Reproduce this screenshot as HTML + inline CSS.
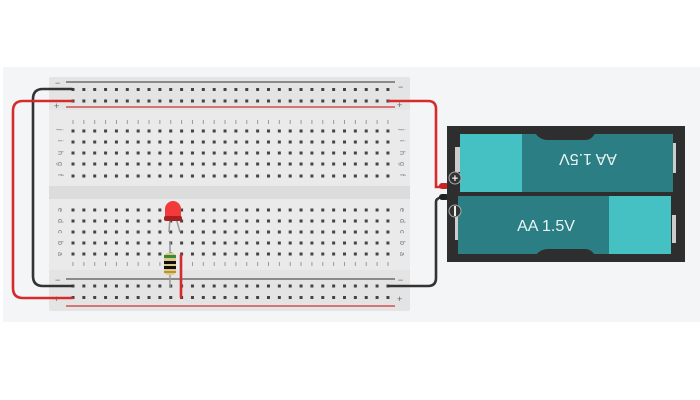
<!DOCTYPE html>
<html><head><style>body{margin:0;background:#fff}svg{display:block}</style></head><body>
<svg width="700" height="400" viewBox="0 0 700 400" xmlns="http://www.w3.org/2000/svg" font-family="Liberation Sans, sans-serif">
<rect x="3" y="67" width="697" height="255" fill="#f4f5f7"/>
<rect x="49" y="77" width="361" height="234" rx="2" fill="#e4e4e4"/>
<rect x="49" y="110" width="361" height="160" fill="#eaeaea"/>
<rect x="49" y="186" width="361" height="13" fill="#dcdcdc"/>
<line x1="66" y1="82" x2="395" y2="82" stroke="#555" stroke-width="1.3"/>
<line x1="66" y1="107" x2="395" y2="107" stroke="#c33" stroke-width="1.3"/>
<line x1="66" y1="279" x2="395" y2="279" stroke="#555" stroke-width="1.3"/>
<line x1="66" y1="306" x2="395" y2="306" stroke="#c33" stroke-width="1.3"/>
<g font-size="9" fill="#666">
<text x="55" y="86">−</text><text x="54" y="109">+</text>
<text x="55" y="283">−</text><text x="54" y="302">+</text>
<text x="398" y="90">−</text><text x="397" y="108">+</text>
<text x="398" y="283">−</text><text x="397" y="302">+</text>
</g>
<g stroke="#444" stroke-width="3" stroke-dasharray="3 7.86">
<line x1="71.5" y1="89.5" x2="392" y2="89.5"/>
<line x1="71.5" y1="101" x2="392" y2="101"/>
<line x1="71.5" y1="131" x2="392" y2="131"/>
<line x1="71.5" y1="142" x2="392" y2="142"/>
<line x1="71.5" y1="153" x2="392" y2="153"/>
<line x1="71.5" y1="164" x2="392" y2="164"/>
<line x1="71.5" y1="176" x2="392" y2="176"/>
<line x1="71.5" y1="210" x2="392" y2="210"/>
<line x1="71.5" y1="221" x2="392" y2="221"/>
<line x1="71.5" y1="232" x2="392" y2="232"/>
<line x1="71.5" y1="243" x2="392" y2="243"/>
<line x1="71.5" y1="254" x2="392" y2="254"/>
<line x1="71.5" y1="286" x2="392" y2="286"/>
<line x1="71.5" y1="297.5" x2="392" y2="297.5"/>
</g>
<g stroke="#999" stroke-width="4" stroke-dasharray="1 9.86">
<line x1="72.5" y1="122" x2="392" y2="122"/>
<line x1="72.5" y1="264" x2="392" y2="264"/>
</g>
<g font-size="7" fill="#777">
<text transform="translate(58,129) rotate(90)">j</text>
<text transform="translate(58,140) rotate(90)">i</text>
<text transform="translate(58,151) rotate(90)">h</text>
<text transform="translate(58,162) rotate(90)">g</text>
<text transform="translate(58,174) rotate(90)">f</text>
<text transform="translate(58,208) rotate(90)">e</text>
<text transform="translate(58,219) rotate(90)">d</text>
<text transform="translate(58,230) rotate(90)">c</text>
<text transform="translate(58,241) rotate(90)">b</text>
<text transform="translate(58,252) rotate(90)">a</text>
<text transform="translate(400,129) rotate(90)">j</text>
<text transform="translate(400,140) rotate(90)">i</text>
<text transform="translate(400,151) rotate(90)">h</text>
<text transform="translate(400,162) rotate(90)">g</text>
<text transform="translate(400,174) rotate(90)">f</text>
<text transform="translate(400,208) rotate(90)">e</text>
<text transform="translate(400,219) rotate(90)">d</text>
<text transform="translate(400,230) rotate(90)">c</text>
<text transform="translate(400,241) rotate(90)">b</text>
<text transform="translate(400,252) rotate(90)">a</text>
</g>
<g fill="none" stroke-width="2.6" stroke-linecap="round">
<path d="M72 89 H43 Q33 89 33 99 V276 Q33 286 43 286 H72" stroke="#333"/>
<path d="M72 101 H23 Q13 101 13 111 V288 Q13 298 23 298 H72" stroke="#d62b2b"/>
<path d="M389 101 H428 Q436 101 436 109 V187 H446" stroke="#d62b2b"/>
<path d="M389 286 H428 Q436 286 436 278 V202 Q436 197 446 197" stroke="#333"/>
<path d="M181 255 V297" stroke="#d62b2b"/>
</g>
<rect x="439" y="183" width="10" height="6" rx="3" fill="#c22"/>
<rect x="439" y="194" width="10" height="6" rx="3" fill="#222"/>
<line x1="170" y1="218" x2="169" y2="232" stroke="#999" stroke-width="1.5"/>
<line x1="176" y1="218" x2="180" y2="232" stroke="#999" stroke-width="1.5"/>
<path d="M165 218 V209 A8 8 0 0 1 181 209 V218 Z" fill="#f23a3a"/>
<rect x="164" y="216" width="18" height="5" rx="2" fill="#a82020"/>
<line x1="170" y1="242" x2="170" y2="287" stroke="#999" stroke-width="1.5"/>
<rect x="164" y="253" width="12" height="22" rx="4" fill="#e0c88a"/>
<rect x="164" y="255" width="12" height="3" fill="#3a8a3a"/>
<rect x="164" y="261" width="12" height="3" fill="#111"/>
<rect x="164" y="266" width="12" height="3" fill="#111"/>
<rect x="164" y="271" width="12" height="2" fill="#b8962e"/>
<rect x="447" y="126" width="238" height="136" fill="#2e2e2e"/>
<rect x="455" y="147" width="5" height="25" fill="#ccc"/>
<rect x="672" y="143" width="4" height="30" fill="#ccc"/>
<rect x="455" y="210" width="5" height="30" fill="#ccc"/>
<rect x="672" y="215" width="4" height="28" fill="#ccc"/>
<rect x="460" y="134" width="213" height="58" fill="#2b7f84"/>
<rect x="460" y="134" width="62" height="58" fill="#45c1c4"/>
<rect x="458" y="196" width="213" height="58" fill="#2b7f84"/>
<rect x="609" y="196" width="62" height="58" fill="#45c1c4"/>
<path d="M535 133 Q540 140 548 140 H585 Q592 140 595 133 Z" fill="#2e2e2e"/>
<path d="M535 256 Q540 249 548 249 H585 Q592 249 595 256 Z" fill="#2e2e2e"/>
<text x="588" y="164" font-size="16" fill="#eaf4f4" text-anchor="middle" transform="rotate(180 588 159)">AA 1.5V</text>
<text x="546" y="231" font-size="16" fill="#eaf4f4" text-anchor="middle">AA 1.5V</text>
<circle cx="455" cy="178" r="6" fill="#333" stroke="#aaa" stroke-width="1"/>
<text x="455" y="182" font-size="11" fill="#eee" text-anchor="middle" font-weight="bold">+</text>
<circle cx="455" cy="211" r="6" fill="#333" stroke="#aaa" stroke-width="1"/>
<rect x="454" y="206" width="2" height="10" fill="#eee"/>
</svg>
</body></html>
